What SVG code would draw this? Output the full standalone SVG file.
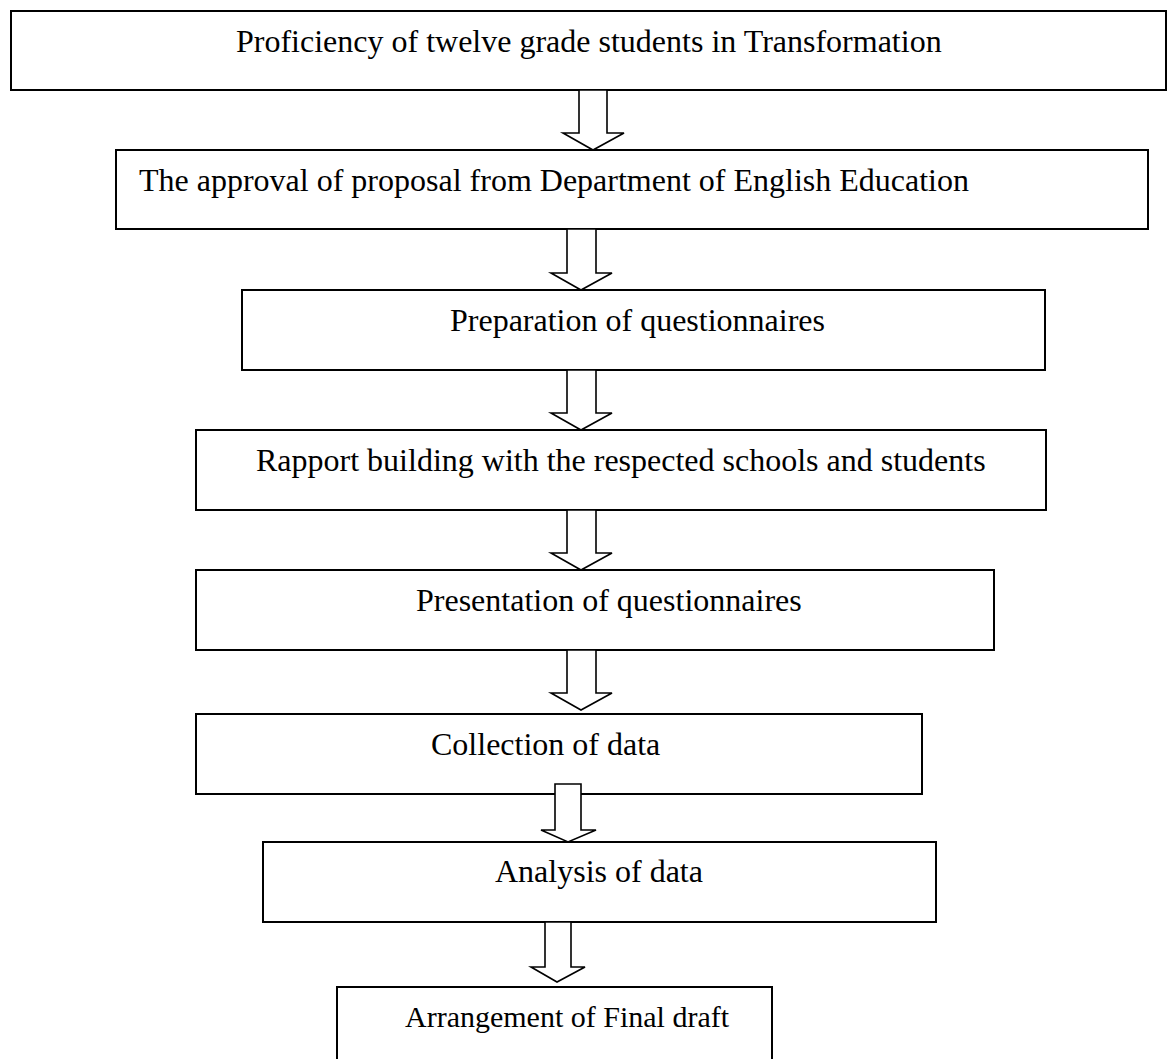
<svg xmlns="http://www.w3.org/2000/svg" width="1168" height="1059" viewBox="0 0 1168 1059">
<style>
.box{fill:#fff;stroke:#000;stroke-width:2}
.lbl{font-family:"Liberation Serif","Times New Roman",serif;font-size:32px;fill:#000}
.arr{fill:#fff;stroke:#000;stroke-width:1.6;stroke-linejoin:miter}
</style>
<rect width="1168" height="1059" fill="#fff"/>
<g id="n1"><rect class="box" x="11" y="11" width="1155" height="79"/><text class="lbl" x="236" y="52">Proficiency of twelve grade students in Transformation</text></g>
<g id="n2"><rect class="box" x="116" y="150" width="1032" height="79"/><text class="lbl" x="139" y="191">The approval of proposal from Department of English Education</text></g>
<g id="n3"><rect class="box" x="242" y="290" width="803" height="80"/><text class="lbl" x="450" y="331">Preparation of questionnaires</text></g>
<g id="n4"><rect class="box" x="196" y="430" width="850" height="80"/><text class="lbl" x="256" y="471">Rapport building with the respected schools and students</text></g>
<g id="n5"><rect class="box" x="196" y="570" width="798" height="80"/><text class="lbl" x="416" y="611">Presentation of questionnaires</text></g>
<g id="n6"><rect class="box" x="196" y="714" width="726" height="80"/><text class="lbl" x="431" y="755">Collection of data</text></g>
<g id="n7"><rect class="box" x="263" y="842" width="673" height="80"/><text class="lbl" x="495" y="882">Analysis of data</text></g>
<g id="n8"><rect class="box" x="337" y="987" width="435" height="90"/><text class="lbl" x="405" y="1027" style="font-size:30px">Arrangement of Final draft</text></g>
<g id="connectors">
<polygon class="arr" points="579,90 607,90 607,133 624,133 593,150 563,133 579,133"/>
<polygon class="arr" points="567,229 596,229 596,273 612,273 581,290 551,273 567,273"/>
<polygon class="arr" points="567,370 596,370 596,413 612,413 581,430 551,413 567,413"/>
<polygon class="arr" points="567,510 596,510 596,553 612,553 581,570 551,553 567,553"/>
<polygon class="arr" points="567,650 596,650 596,693 612,693 581,710 551,693 567,693"/>
<polygon class="arr" points="555,784 581,784 581,830 596,830 568,842 541,830 555,830"/>
<polygon class="arr" points="545,922 571,922 571,967 585,967 557,982 531,967 545,967"/>
</g>
</svg>
